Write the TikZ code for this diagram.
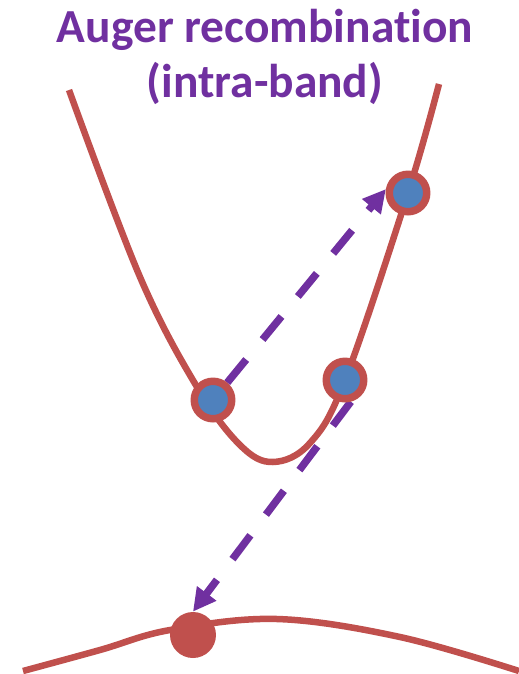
\documentclass[tikz,border=0pt]{standalone}
\usepackage{fontspec}
\usepackage{tikz}
\usetikzlibrary{arrows.meta}
\setmainfont{Carlito}[Ligatures=CommonOff]
\definecolor{bandred}{RGB}{192, 80, 77}
\definecolor{elecblue}{RGB}{79, 129, 189}
\definecolor{augerpurple}{RGB}{112, 48, 160}
\pgfdeclarelayer{back}
\pgfdeclarelayer{mid}
\pgfsetlayers{back,mid,main}
\tikzset{
    band/.style = {draw=bandred, line width=3.7pt},
    electron/.style = {circle, draw=bandred, fill=elecblue, line width=4.25pt, inner sep=0pt, minimum size=0.75cm},
    hole/.style = {circle, fill=bandred, inner sep=0pt, minimum size=0.92cm},
    transition/.style = {draw=augerpurple, line width=4.25pt, dash pattern=on 17pt off 14.7pt, -{Triangle[length=13pt, width=13pt]}},
    title/.style = {text=augerpurple, font=\bfseries\fontsize{27}{31.2}\selectfont, align=center, inner sep=0pt}
}

\begin{document}
\begin{tikzpicture}[x=0.02cm, y=-0.02cm]
\useasboundingbox (0,0) rectangle (519,674);
\node (title) [title] at (265,57) {Auger recombination\\(intra-band)};

\node (e1) [electron] at (213,400) {};
\node (e2) [electron] at (345,380) {};
\node (e3) [electron] at (408,193) {};
\node (h) [hole] at (193,635) {};

\begin{pgfonlayer}{mid}
\draw [band] plot[smooth, tension=0.6] coordinates {(69,90) (140,277) (197,387) (240,445) (273,462) (310,443) (345,380) (408,193) (439,84)};
\draw [band] plot[smooth, tension=0.6] coordinates {(23,671) (100,650) (170,630) (277,619) (400,637) (519,671)};
\end{pgfonlayer}

\begin{pgfonlayer}{back}
\draw [transition] (e1) -- (e3.170);
\draw [transition] (e2.-75) -- (h.north);
\end{pgfonlayer}
\end{tikzpicture}
\end{document}
